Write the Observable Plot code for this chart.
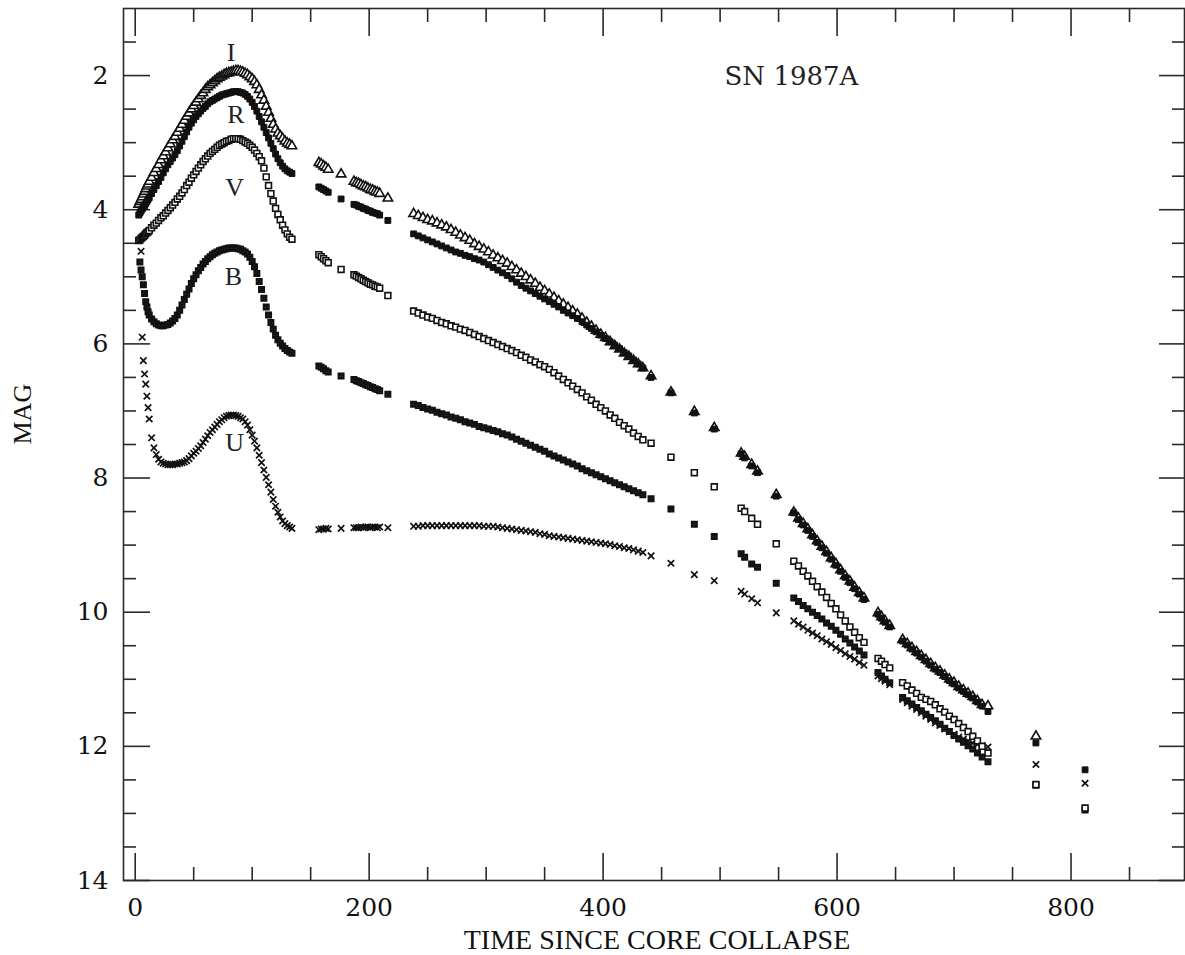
<!DOCTYPE html>
<html>
<head>
<meta charset="utf-8">
<script src="https://cdn.jsdelivr.net/npm/d3@7"></script>
<script src="https://cdn.jsdelivr.net/npm/@observablehq/plot@0.6"></script>
<style>
  html, body { margin: 0; padding: 0; background: #fff; }
  #chart svg { display: block; }
</style>
</head>
<body>
<div id="chart"></div>
<script>
// ---- Data (days since core collapse, magnitudes) ----
const days = [
  3,4,5,6,7,8,9,10,11,12,
  14,16,18,20,22,24,26,28,30,32,34,36,38,40,42,44,46,48,50,52,54,56,58,60,
  62,64,66,68,70,72,74,76,78,80,82,84,86,88,90,92,94,96,98,100,102,104,106,108,
  110,112,114,116,118,120,122,124,126,128,130,132,134,
  157,159,161,163,165,176,187,189,191,193,195,197,199,201,203,205,207,209,216,
  238,242,246,250,254,258,262,266,270,274,278,282,286,290,294,298,302,306,310,314,318,322,326,330,334,
  338,342,346,350,354,358,362,366,370,374,378,382,386,390,394,398,402,406,410,414,418,422,426,430,434,
  441,458,478,495,518,521,527,532,548,
  563,567,571,575,579,583,587,591,595,599,603,607,611,615,619,623,
  635,638,641,645,
  656,660,664,668,672,676,680,684,688,692,696,700,704,708,712,716,720,724,729,
  770,812
];

const magI = [
  3.92,3.88,3.85,3.81,3.77,3.73,3.69,3.65,3.62,3.58,
  3.52,3.45,3.39,3.33,3.26,3.20,3.14,3.08,3.02,2.96,2.91,2.85,2.79,2.73,2.67,2.61,2.56,2.50,2.45,2.40,2.35,2.30,2.26,2.21,
  2.17,2.14,2.11,2.08,2.05,2.03,2.01,1.99,1.97,1.96,1.95,1.94,1.93,1.93,1.94,1.95,1.97,1.99,2.02,2.05,2.09,2.14,2.21,2.29,
  2.37,2.46,2.55,2.64,2.73,2.80,2.86,2.90,2.94,2.98,3.01,3.03,3.05,
  3.30,3.32,3.35,3.37,3.40,3.47,3.58,3.60,3.61,3.63,3.65,3.66,3.68,3.70,3.71,3.73,3.74,3.76,3.83,
  4.06,4.09,4.12,4.15,4.17,4.20,4.23,4.26,4.30,4.34,4.38,4.42,4.46,4.51,4.55,4.59,4.63,4.68,4.72,4.76,4.80,4.85,4.90,4.95,5.00,
  5.05,5.10,5.16,5.21,5.26,5.31,5.36,5.41,5.46,5.51,5.56,5.62,5.68,5.74,5.80,5.86,5.91,5.97,6.03,6.08,6.14,6.19,6.25,6.30,6.36,
  6.48,6.72,7.01,7.25,7.63,7.68,7.80,7.90,8.25,
  8.51,8.60,8.68,8.76,8.85,8.94,9.02,9.10,9.19,9.28,9.37,9.46,9.54,9.63,9.71,9.79,
  10.01,10.07,10.13,10.20,
  10.41,10.47,10.53,10.59,10.65,10.71,10.77,10.83,10.88,10.94,11.00,11.05,11.11,11.16,11.21,11.26,11.32,11.38,11.40,
  11.85,null
];

const magR = [
  4.08,4.05,4.02,3.99,3.96,3.94,3.91,3.88,3.85,3.82,
  3.76,3.70,3.64,3.58,3.52,3.45,3.39,3.33,3.28,3.23,3.18,3.12,3.05,2.98,2.91,2.84,2.77,2.71,2.66,2.61,2.57,2.53,2.49,2.46,
  2.42,2.39,2.37,2.35,2.33,2.31,2.29,2.28,2.27,2.26,2.25,2.24,2.24,2.24,2.25,2.26,2.28,2.31,2.35,2.40,2.46,2.53,2.61,2.69,
  2.77,2.85,2.93,3.01,3.09,3.17,3.24,3.30,3.35,3.39,3.42,3.44,3.46,
  3.66,3.68,3.70,3.72,3.74,3.84,3.92,3.93,3.95,3.96,3.98,3.99,4.01,4.02,4.04,4.05,4.06,4.08,4.16,
  4.36,4.39,4.42,4.45,4.48,4.51,4.54,4.57,4.60,4.63,4.65,4.68,4.70,4.73,4.75,4.78,4.82,4.86,4.90,4.94,4.98,5.03,5.08,5.13,5.17,
  5.21,5.25,5.29,5.33,5.37,5.41,5.45,5.50,5.54,5.58,5.62,5.67,5.72,5.77,5.82,5.87,5.92,5.97,6.02,6.07,6.13,6.18,6.24,6.30,6.36,
  6.50,6.73,7.03,7.27,7.64,7.70,7.82,7.92,8.27,
  8.52,8.62,8.70,8.78,8.87,8.96,9.04,9.12,9.21,9.30,9.39,9.48,9.56,9.65,9.73,9.81,
  10.03,10.09,10.15,10.22,
  10.43,10.49,10.55,10.61,10.67,10.73,10.79,10.85,10.90,10.96,11.02,11.07,11.13,11.18,11.23,11.28,11.34,11.40,11.48,
  11.95,12.35
];

const magV = [
  4.46,4.45,4.43,4.41,4.40,4.38,4.36,4.34,4.33,4.31,
  4.27,4.23,4.20,4.16,4.12,4.09,4.05,4.01,3.97,3.93,3.89,3.84,3.80,3.75,3.70,3.64,3.59,3.53,3.48,3.43,3.38,3.33,3.28,3.24,
  3.20,3.16,3.13,3.10,3.07,3.04,3.02,3.00,2.98,2.97,2.95,2.94,2.94,2.94,2.95,2.97,2.99,3.01,3.04,3.07,3.11,3.16,3.21,3.27,
  3.38,3.51,3.64,3.76,3.87,3.98,4.07,4.15,4.23,4.30,4.36,4.41,4.44,
  4.67,4.70,4.73,4.76,4.79,4.89,4.97,4.99,5.01,5.03,5.05,5.07,5.09,5.11,5.12,5.14,5.15,5.17,5.28,
  5.51,5.54,5.57,5.60,5.62,5.65,5.68,5.70,5.73,5.75,5.78,5.80,5.83,5.86,5.89,5.92,5.95,5.98,6.01,6.04,6.07,6.10,6.13,6.17,6.20,
  6.24,6.27,6.31,6.34,6.38,6.43,6.48,6.53,6.58,6.63,6.68,6.73,6.79,6.84,6.90,6.95,7.00,7.06,7.11,7.17,7.22,7.27,7.33,7.38,7.43,
  7.48,7.69,7.92,8.13,8.45,8.50,8.60,8.69,8.98,
  9.24,9.31,9.39,9.46,9.54,9.62,9.70,9.78,9.87,9.95,10.04,10.13,10.22,10.30,10.38,10.45,
  10.69,10.73,10.78,10.83,
  11.05,11.10,11.16,11.21,11.27,11.30,11.33,11.38,11.44,11.49,11.55,11.60,11.66,11.72,11.78,11.85,11.92,12.00,12.10,
  12.57,12.92
];

const magB = [
  null,4.78,4.90,5.00,5.12,5.25,5.37,5.45,5.52,5.57,
  5.63,5.67,5.70,5.72,5.73,5.73,5.72,5.71,5.69,5.66,5.62,5.57,5.50,5.42,5.34,5.26,5.18,5.10,5.03,4.97,4.91,4.86,4.81,4.77,
  4.73,4.70,4.67,4.65,4.63,4.61,4.60,4.59,4.58,4.57,4.57,4.57,4.57,4.58,4.59,4.61,4.63,4.66,4.71,4.77,4.85,4.95,5.07,5.19,
  5.32,5.45,5.57,5.68,5.78,5.87,5.94,5.99,6.03,6.07,6.10,6.12,6.14,
  6.33,6.35,6.37,6.40,6.42,6.48,6.53,6.55,6.56,6.58,6.59,6.61,6.62,6.64,6.65,6.67,6.68,6.70,6.75,
  6.90,6.92,6.95,6.97,6.99,7.02,7.04,7.06,7.09,7.11,7.13,7.16,7.18,7.20,7.23,7.25,7.27,7.29,7.31,7.34,7.36,7.39,7.42,7.45,7.48,
  7.51,7.54,7.57,7.60,7.64,7.67,7.70,7.73,7.76,7.79,7.82,7.86,7.89,7.92,7.95,7.98,8.01,8.04,8.07,8.10,8.13,8.16,8.19,8.22,8.25,
  8.31,8.46,8.69,8.87,9.13,9.18,9.28,9.33,9.57,
  9.79,9.84,9.90,9.95,10.00,10.05,10.10,10.16,10.21,10.27,10.33,10.40,10.46,10.52,10.58,10.64,
  10.90,10.95,11.00,11.05,
  11.27,11.32,11.37,11.42,11.47,11.52,11.57,11.62,11.67,11.73,11.78,11.84,11.89,11.94,11.99,12.04,12.10,12.16,12.23,
  12.58,12.95
];

const magU = [
  null,null,4.62,5.90,6.25,6.45,6.60,6.78,6.95,7.12,
  7.40,7.55,7.65,7.72,7.76,7.78,7.79,7.80,7.80,7.80,7.79,7.79,7.78,7.77,7.76,7.74,7.71,7.67,7.63,7.60,7.56,7.52,7.47,7.42,
  7.37,7.32,7.28,7.24,7.20,7.16,7.13,7.10,7.08,7.07,7.06,7.06,7.07,7.08,7.10,7.12,7.16,7.21,7.28,7.36,7.45,7.55,7.66,7.77,
  7.88,7.99,8.10,8.21,8.32,8.42,8.51,8.58,8.64,8.68,8.71,8.73,8.75,
  8.77,8.76,8.76,8.75,8.76,8.75,8.74,8.74,8.74,8.73,8.74,8.73,8.73,8.74,8.73,8.73,8.74,8.73,8.74,
  8.72,8.72,8.71,8.71,8.71,8.71,8.71,8.71,8.71,8.71,8.71,8.71,8.71,8.71,8.71,8.72,8.72,8.72,8.73,8.74,8.75,8.76,8.77,8.78,8.79,
  8.80,8.81,8.83,8.84,8.86,8.87,8.88,8.89,8.90,8.91,8.92,8.93,8.94,8.95,8.96,8.97,8.98,8.99,9.01,9.02,9.04,9.05,9.07,9.09,9.11,
  9.16,9.27,9.44,9.53,9.69,9.73,9.80,9.86,10.01,
  10.13,10.18,10.22,10.27,10.31,10.35,10.40,10.44,10.48,10.53,10.57,10.62,10.66,10.70,10.75,10.79,
  10.95,10.99,11.03,11.08,
  11.30,11.35,11.40,11.45,11.50,11.55,11.60,11.65,11.69,11.74,11.78,11.82,11.86,11.89,11.92,11.95,11.97,11.99,12.01,
  12.27,12.55
];

// Band labels on the curves and the object name (data coordinates)
const bandNames = ["I", "R", "V", "B", "U"];
const bandLabelDay = [82, 86, 85, 84, 85];
const bandLabelMag = [1.66, 2.59, 3.67, 5.0, 7.48];
const objectName = ["SN 1987A"];
const objectDay = [561];
const objectMag = [2.01];

// Axis ticks
const xLabels = [0, 200, 400, 600, 800];
const xMinor = [50, 100, 150, 250, 300, 350, 450, 500, 550, 650, 700, 750, 850];
const yLabels = [2, 4, 6, 8, 10, 12, 14];
const yMinor = [1.5, 2.5, 3, 3.5, 4.5, 5, 5.5, 6.5, 7, 7.5, 8.5, 9, 9.5, 10.5, 11, 11.5, 12.5, 13, 13.5];
const xTitle = "TIME SINCE CORE COLLAPSE";
const yTitle = "MAG";

// ---- Build table ----
const series = {I: magI, R: magR, V: magV, B: magB, U: magU};
for (const [k, arr] of Object.entries(series)) {
  if (arr.length !== days.length) throw new Error(`band ${k}: ${arr.length} values vs ${days.length} days`);
}
const rows = [];
for (const [band, arr] of Object.entries(series)) {
  days.forEach((d, i) => { if (arr[i] != null) rows.push({band, day: d, mag: arr[i]}); });
}
const of = (b) => rows.filter(r => r.band === b);

// Square with a cross inside (B band marker)
const boxTimes = {
  draw(context, size) {
    const s = Math.sqrt(size) / 2;
    context.moveTo(-s, -s); context.lineTo(s, -s); context.lineTo(s, s); context.lineTo(-s, s); context.closePath();
    context.moveTo(-s, -s); context.lineTo(s, s);
    context.moveTo(s, -s); context.lineTo(-s, s);
  }
};

// ---- Layout ----
const W = 1185, H = 955;
const mL = 123, mR = 1, mT = 8, mB = 75;
const iw = W - mL - mR, ih = H - mT - mB;
const ink = "#111";
const axisInk = "#2a2a2a";

const chart = Plot.plot({
  width: W, height: H,
  marginLeft: mL, marginRight: mR, marginTop: mT, marginBottom: mB,
  x: {domain: [-10, 897]},
  y: {domain: [14, 1]},
  style: {background: "#fff", color: ink, fontFamily: "DejaVu Serif"},
  marks: [
    Plot.frame({stroke: axisInk, strokeWidth: 1.6}),
    // inward ticks: bottom/top
    Plot.tickX(xLabels, {x: d => d, insetTop: ih - 27, stroke: axisInk, strokeWidth: 1.6}),
    Plot.tickX(xLabels, {x: d => d, insetBottom: ih - 28, stroke: axisInk, strokeWidth: 1.6}),
    Plot.tickX(xMinor, {x: d => d, insetTop: ih - 13, stroke: axisInk, strokeWidth: 1.6}),
    Plot.tickX(xMinor, {x: d => d, insetBottom: ih - 14, stroke: axisInk, strokeWidth: 1.6}),
    // inward ticks: left/right
    Plot.tickY(yLabels, {y: d => d, insetRight: iw - 27, stroke: axisInk, strokeWidth: 1.6}),
    Plot.tickY(yLabels, {y: d => d, insetLeft: iw - 25, stroke: axisInk, strokeWidth: 1.6}),
    Plot.tickY(yMinor, {y: d => d, insetRight: iw - 13, stroke: axisInk, strokeWidth: 1.6}),
    Plot.tickY(yMinor, {y: d => d, insetLeft: iw - 12, stroke: axisInk, strokeWidth: 1.6}),
    // tick labels
    Plot.axisX(xLabels, {tickSize: 0, tickPadding: 18, tickFormat: d => String(d), fontSize: 25, fontFamily: "DejaVu Serif", fill: ink, label: null}),
    Plot.axisY(yLabels, {tickSize: 0, tickPadding: 15, tickFormat: d => String(d), fontSize: 25, fontFamily: "DejaVu Serif", fill: ink, label: null}),
    // axis titles
    Plot.text([xTitle], {frameAnchor: "bottom", dx: 3, dy: 60, lineAnchor: "middle", fontSize: 28, fontFamily: "Liberation Serif", fill: ink}),
    Plot.text([yTitle], {frameAnchor: "left", dx: -101, rotate: -90, lineAnchor: "middle", fontSize: 26, fontFamily: "Liberation Serif", fill: ink}),
    // light curves
    Plot.dot(of("U"), {x: "day", y: "mag", symbol: "times", r: 3.0, stroke: ink, strokeWidth: 1.7}),
    Plot.dot(of("B"), {x: "day", y: "mag", symbol: boxTimes, r: 3.1, stroke: ink, fill: "#333", strokeWidth: 1.5}),
    Plot.dot(of("V"), {x: "day", y: "mag", symbol: "square", r: 3.3, stroke: ink, fill: "#fff", strokeWidth: 1.6}),
    Plot.dot(of("I"), {x: "day", y: "mag", symbol: "triangle", r: 3.5, stroke: ink, fill: "#fff", strokeWidth: 1.6}),
    Plot.dot(of("R"), {x: "day", y: "mag", symbol: "square", r: 3.3, fill: ink, stroke: ink, strokeWidth: 1}),
    // labels
    Plot.text(bandNames, {x: (d, i) => bandLabelDay[i], y: (d, i) => bandLabelMag[i], text: d => d, fontSize: 26, fontFamily: "Liberation Serif", fill: "#222"}),
    Plot.text(objectName, {x: (d, i) => objectDay[i], y: (d, i) => objectMag[i], text: d => d, fontSize: 26, fontFamily: "DejaVu Serif", fill: "#222"})
  ]
});
document.getElementById("chart").appendChild(chart);
</script>
</body>
</html>
